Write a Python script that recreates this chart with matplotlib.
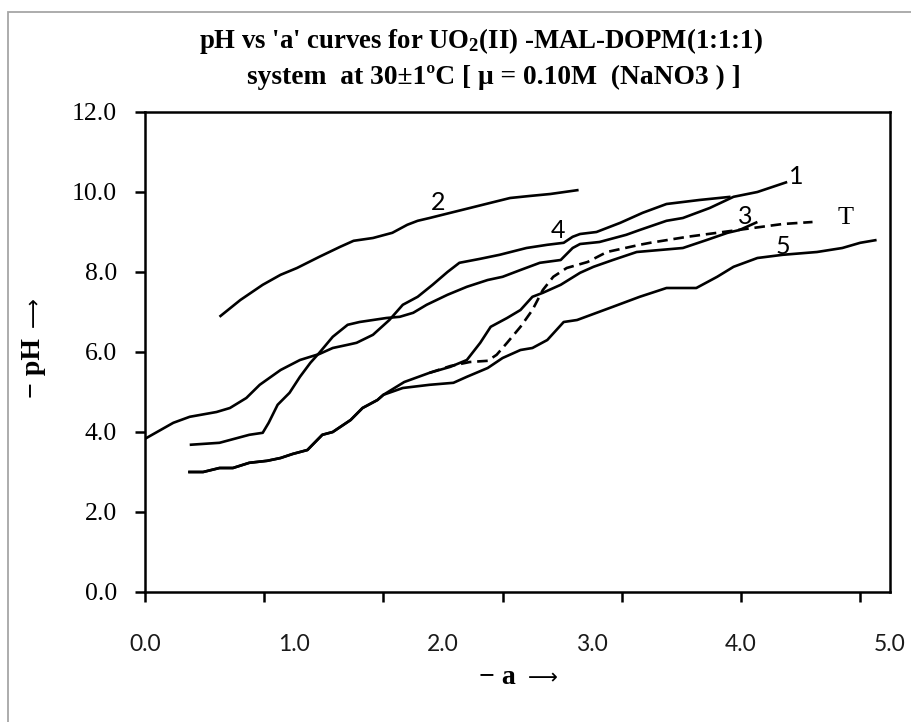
import numpy as np
import matplotlib
matplotlib.use("Agg")
import matplotlib.pyplot as plt
from matplotlib.patches import Rectangle

# ---- data -------------------------------------------------------------
# curve 2
a2 = [0.50, 0.64, 0.79, 0.91, 1.02, 1.17, 1.31, 1.40, 1.53, 1.66, 1.76, 1.83,
      1.91, 2.05, 2.18, 2.32, 2.45, 2.58, 2.72, 2.91]
ph2 = [6.88, 7.30, 7.68, 7.93, 8.10, 8.38, 8.63, 8.78, 8.85, 8.98, 9.18, 9.28,
       9.35, 9.48, 9.60, 9.73, 9.85, 9.90, 9.95, 10.05]

# curve 4
a4 = [0.00, 0.19, 0.30, 0.48, 0.57, 0.68, 0.77, 0.91, 1.04, 1.17, 1.26, 1.36,
      1.42, 1.53, 1.64, 1.73, 1.83, 1.93, 2.03, 2.11, 2.25, 2.38, 2.56, 2.70,
      2.81, 2.87, 2.92, 3.03, 3.19, 3.34, 3.50, 3.72, 3.93]
ph4 = [3.83, 4.23, 4.38, 4.50, 4.60, 4.85, 5.18, 5.55, 5.80, 5.95, 6.10, 6.18,
       6.23, 6.43, 6.80, 7.18, 7.38, 7.68, 8.00, 8.23, 8.33, 8.43, 8.60, 8.68,
       8.73, 8.88, 8.95, 9.00, 9.23, 9.48, 9.70, 9.80, 9.88]

# curve 1
a1 = [0.30, 0.50, 0.70, 0.79, 0.83, 0.89, 0.97, 1.04, 1.11, 1.17, 1.26, 1.36,
      1.44, 1.53, 1.62, 1.71, 1.80, 1.89, 2.03, 2.16, 2.30, 2.40, 2.52, 2.65,
      2.79, 2.87, 2.92, 3.05, 3.23, 3.32, 3.50, 3.61, 3.79, 3.95, 4.11, 4.31]
ph1 = [3.68, 3.73, 3.93, 3.98, 4.23, 4.68, 4.98, 5.38, 5.73, 5.98, 6.38, 6.68,
       6.75, 6.80, 6.85, 6.88, 6.98, 7.18, 7.43, 7.63, 7.80, 7.88, 8.05, 8.23,
       8.30, 8.60, 8.70, 8.75, 8.93, 9.05, 9.28, 9.35, 9.60, 9.88, 10.00, 10.25]

# curve 3
a3 = [0.29, 0.39, 0.50, 0.59, 0.70, 0.82, 0.91, 0.99, 1.09, 1.19, 1.26, 1.38,
      1.46, 1.56, 1.60, 1.74, 1.91, 2.05, 2.16, 2.25, 2.32, 2.43, 2.52, 2.60,
      2.67, 2.79, 2.92, 3.01, 3.14, 3.30, 3.61, 3.77, 3.91, 3.99, 4.11]
ph3 = [3.00, 3.00, 3.10, 3.10, 3.23, 3.28, 3.35, 3.45, 3.55, 3.93, 4.00, 4.30,
       4.60, 4.80, 4.93, 5.25, 5.48, 5.63, 5.80, 6.23, 6.63, 6.85, 7.05, 7.38,
       7.48, 7.68, 7.98, 8.13, 8.30, 8.50, 8.60, 8.80, 8.98, 9.05, 9.25]

# curve 5
a5 = [0.29, 0.39, 0.50, 0.59, 0.70, 0.82, 0.91, 0.99, 1.09, 1.19, 1.26, 1.38,
      1.46, 1.56, 1.60, 1.73, 1.91, 2.07, 2.16, 2.30, 2.40, 2.52, 2.60, 2.70,
      2.81, 2.90, 3.14, 3.32, 3.50, 3.70, 3.84, 3.95, 4.11, 4.28, 4.51, 4.68,
      4.80, 4.91]
ph5 = [3.00, 3.00, 3.10, 3.10, 3.23, 3.28, 3.35, 3.45, 3.55, 3.93, 4.00, 4.30,
       4.60, 4.80, 4.93, 5.10, 5.18, 5.23, 5.38, 5.60, 5.85, 6.05, 6.10, 6.30,
       6.75, 6.80, 7.13, 7.38, 7.60, 7.60, 7.88, 8.13, 8.35, 8.43, 8.50, 8.60,
       8.73, 8.80]

# theoretical curve T
aT = [1.91, 2.05, 2.18, 2.30, 2.36, 2.43, 2.52, 2.60, 2.67, 2.74, 2.83, 2.97,
      3.10, 3.32, 3.39, 3.64, 3.84, 4.08, 4.28, 4.48]
phT = [5.48, 5.65, 5.75, 5.78, 5.93, 6.23, 6.63, 7.05, 7.55, 7.88, 8.10, 8.25,
       8.50, 8.68, 8.73, 8.88, 8.98, 9.10, 9.20, 9.25]

a_label_values = [0, 1, 2, 3, 4, 5]
a_tick_labels = ["0.0", "1.0", "2.0", "3.0", "4.0", "5.0"]
ph_ticks = [0, 2, 4, 6, 8, 10, 12]
ph_tick_labels = ["0.0", "2.0", "4.0", "6.0", "8.0", "10.0", "12.0"]

# ---- style ------------------------------------------------------------
plt.rcParams["mathtext.fontset"] = "custom"
plt.rcParams["mathtext.rm"] = "Liberation Serif:bold"
plt.rcParams["mathtext.it"] = "Liberation Serif:bold"
plt.rcParams["mathtext.bf"] = "Liberation Serif:bold"

W, H = 912, 722
fig = plt.figure(figsize=(W / 100, H / 100), dpi=100)
fig.patch.set_facecolor("white")

# axes box in pixel terms
L, R, T, B = 145, 890, 112, 592
ax = fig.add_axes([L / W, 1 - B / H, (R - L) / W, (B - T) / H])

lw = 1.9
for xs, ys in [(a2, ph2), (a4, ph4), (a1, ph1), (a3, ph3), (a5, ph5)]:
    ax.plot(xs, ys, color="black", lw=lw, solid_joinstyle="round",
            solid_capstyle="butt")
ax.plot(aT, phT, color="black", lw=lw, dashes=(4, 2.2))

ax.set_xlim(0, 5.0)
ax.set_ylim(0, 12)

# x axis: tick marks every 0.8, value labels at whole numbers
ax.xaxis.remove_overlapping_locs = False
ax.set_xticks(np.arange(0, 4.81, 0.8))
ax.set_xticklabels([])
ax.set_xticks(a_label_values, minor=True)
ax.set_xticklabels(a_tick_labels, minor=True, fontfamily="Lato", fontsize=16.5,
                   color="#1a1a1a")
ax.tick_params(axis="x", which="major", direction="out", length=7, width=1.8)
ax.tick_params(axis="x", which="minor", length=0, pad=30)

ax.set_yticks(ph_ticks)
ax.set_yticklabels(ph_tick_labels, fontfamily="Liberation Serif", fontsize=18.5)
ax.tick_params(axis="y", direction="out", length=7, width=1.8, pad=13)

for sp in ax.spines.values():
    sp.set_linewidth(1.8)
    sp.set_color("black")

# curve labels
lab_kw = dict(fontfamily="Lato", fontsize=18, ha="center", va="center")
ax.text(1.97, 9.75, "2", **lab_kw)
ax.text(4.37, 10.40, "1", **lab_kw)
ax.text(2.77, 9.05, "4", **lab_kw)
ax.text(4.03, 9.38, "3", **lab_kw)
ax.text(4.28, 8.63, "5", **lab_kw)
ax.text(4.70, 9.35, "T", fontfamily="Liberation Serif", fontsize=19,
        ha="center", va="center")

# titles
fig.text(481 / W, 1 - 41 / H,
         "pH vs 'a' curves for UO$_{2}$(II) -MAL-DOPM(1:1:1)",
         fontfamily="Liberation Serif", fontweight="bold", fontsize=19.3,
         ha="center", va="center")
fig.text(494 / W, 1 - 77 / H,
         "system  at 30\u00b11\u00baC [ \u03bc = 0.10M  (NaNO3 ) ]",
         fontfamily="Liberation Serif", fontweight="bold", fontsize=19.8,
         ha="center", va="center")

# axis captions: text part in serif bold, thin long arrow from DejaVu Sans
cap_kw = dict(fontfamily="Liberation Serif", fontweight="bold", fontsize=20,
              va="center")
arrow_kw = dict(fontfamily=["DejaVu Sans"], fontsize=15, va="center",
                ha="center")
fig.text(33 / W, 1 - 368 / H, "\u2212 pH", rotation=90, ha="center", **cap_kw)
fig.text(34 / W, 1 - 312 / H, "\u27f6", rotation=90, **arrow_kw)
fig.text(497 / W, 1 - 678 / H, "\u2212 a", ha="center", **cap_kw)
fig.text(543 / W, 1 - 678 / H, "\u27f6", **arrow_kw)

# outer chart frame
fig.patches.append(Rectangle((8 / W, -0.2), 1.5, 0.2 + 1 - 12 / H,
                             transform=fig.transFigure, fill=False,
                             edgecolor="#a6a6a6", lw=1.3))

fig.savefig("out.png", dpi=100)
